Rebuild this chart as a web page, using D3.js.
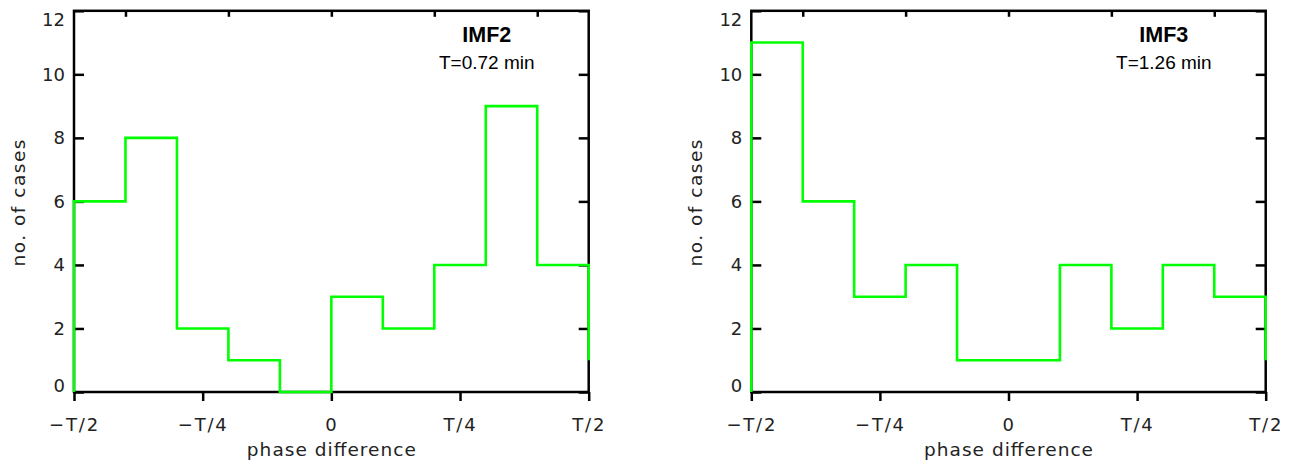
<!DOCTYPE html>
<html>
<head>
<meta charset="utf-8">
<script src="https://cdn.jsdelivr.net/npm/d3@7"></script>
<style>
  html, body { margin: 0; padding: 0; background: #fff; }
  svg { display: block; }
</style>
</head>
<body>
<svg id="chart" width="1303" height="464"></svg>
<script>
// ---- data ----
const binEdges = [-0.5, -0.4, -0.3, -0.2, -0.1, 0, 0.1, 0.2, 0.3, 0.4, 0.5];
const imf2Counts = [6, 8, 2, 1, 0, 3, 2, 4, 9, 4];
const imf3Counts = [11, 6, 3, 4, 1, 1, 4, 2, 4, 3];
const endValues = [1, 1];
const panelTitles = ["IMF2", "IMF3"];
const panelPeriods = ["T=0.72 min", "T=1.26 min"];
const xTickValues = [-0.5, -0.25, 0, 0.25, 0.5];
const xTickLabels = ["\u2212T/2", "\u2212T/4", "0", "T/4", "T/2"];
const topTickValues = [-0.4, -0.2, 0, 0.2, 0.4];
const yTickValues = [0, 2, 4, 6, 8, 10, 12];
const xTitle = "phase difference";
const yTitle = "no. of cases";

const seriesList = [imf2Counts, imf3Counts];

// ---- layout ----
const svg = d3.select("#chart");
const panelsX = [[74, 588.7], [751.3, 1265.7]];
const yRange = [392, 10.8];
const tickFont = "'DejaVu Sans', sans-serif";
const textGrey = "#222";

panelsX.forEach((px, p) => {
  const x = d3.scaleLinear().domain([-0.5, 0.5]).range(px);
  const y = d3.scaleLinear().domain([0, 12]).range(yRange);
  const g = svg.append("g");

  const bottom = g.append("g")
    .attr("transform", `translate(0,${yRange[0]})`)
    .call(d3.axisBottom(x).tickValues(xTickValues).tickSize(9).tickPadding(17)
      .tickFormat((d, i) => xTickLabels[i]));
  const top = g.append("g")
    .attr("transform", `translate(0,${yRange[1]})`)
    .call(d3.axisTop(x).tickValues(topTickValues).tickSize(-6).tickFormat(""));
  const left = g.append("g")
    .attr("transform", `translate(${px[0]},0)`)
    .call(d3.axisLeft(y).tickValues(yTickValues).tickSize(-10).tickPadding(9)
      .tickFormat(d3.format("d")));
  const right = g.append("g")
    .attr("transform", `translate(${px[1]},0)`)
    .call(d3.axisRight(y).tickValues(yTickValues).tickSize(-10).tickFormat(""));

  [bottom, top, left, right].forEach(a => {
    a.select(".domain").remove();
    a.selectAll(".tick line").attr("stroke", "#000").attr("stroke-width", 2.5);
    a.selectAll(".tick text")
      .attr("fill", textGrey)
      .style("font-family", tickFont)
      .style("font-size", "18px");
  });
  bottom.selectAll(".tick text").style("letter-spacing", "1.8px");
  left.selectAll(".tick text")
    .attr("y", d => d === 0 ? -6.5 : (d === 12 ? 9 : 0));

  g.append("rect")
    .attr("x", px[0]).attr("y", yRange[1])
    .attr("width", px[1] - px[0]).attr("height", yRange[0] - yRange[1])
    .attr("fill", "none").attr("stroke", "#000").attr("stroke-width", 2.5);

  const counts = seriesList[p];
  const pts = [[binEdges[0], 0]];
  counts.forEach((c, i) => pts.push([binEdges[i], c]));
  pts.push([binEdges[binEdges.length - 1], counts[counts.length - 1]]);
  pts.push([binEdges[binEdges.length - 1], endValues[p]]);
  const line = d3.line().x(d => x(d[0])).y(d => y(d[1])).curve(d3.curveStepAfter);
  g.append("path")
    .attr("d", line(pts))
    .attr("fill", "none")
    .attr("stroke", "#00ff00")
    .attr("stroke-width", 2.6);

  const tx = x(0.302);
  g.append("text")
    .attr("x", tx).attr("y", 42)
    .attr("text-anchor", "middle")
    .style("font-family", "'Liberation Sans', Arial, sans-serif")
    .style("font-weight", "bold").style("font-size", "21.5px")
    .text(panelTitles[p]);
  g.append("text")
    .attr("x", tx).attr("y", 68.5)
    .attr("text-anchor", "middle")
    .style("font-family", "'Liberation Sans', Arial, sans-serif")
    .style("font-size", "19px")
    .text(panelPeriods[p]);

  g.append("text")
    .attr("x", (px[0] + px[1]) / 2).attr("y", 456)
    .attr("text-anchor", "middle")
    .attr("fill", textGrey)
    .attr("textLength", 169).attr("lengthAdjust", "spacing")
    .style("font-family", tickFont).style("font-size", "18.5px")
    .text(xTitle);
  g.append("text")
    .attr("transform", `translate(${px[0] - 49},203) rotate(-90)`)
    .attr("text-anchor", "middle")
    .attr("fill", textGrey)
    .attr("textLength", 127).attr("lengthAdjust", "spacing")
    .style("font-family", tickFont).style("font-size", "18.5px")
    .text(yTitle);
});
</script>
</body>
</html>
